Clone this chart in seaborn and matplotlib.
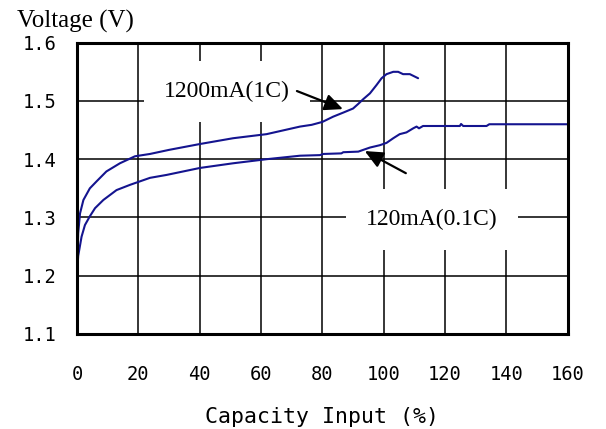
import numpy as np
import pandas as pd
import matplotlib
matplotlib.use("Agg")
import matplotlib.pyplot as plt
import seaborn as sns

# charge curves: capacity input (%) vs voltage (V)
cap_1c = [0, 0.4, 1.0, 2.1, 4.2, 6.4, 9.6, 14, 18.9, 23.8, 30, 40, 50.9, 61.8,
          72.7, 76.5, 80.0, 83.5, 86.8, 90.0, 91.7, 93.3, 95.5, 97.6, 99.3,
          100.9, 103.1, 104.7, 106.3, 108.5, 111.2]
volt_1c = [1.200, 1.273, 1.307, 1.330, 1.350, 1.362, 1.379, 1.393, 1.405, 1.409,
           1.416, 1.426, 1.436, 1.443, 1.456, 1.459, 1.464, 1.473, 1.480, 1.487,
           1.495, 1.503, 1.513, 1.527, 1.539, 1.546, 1.550, 1.550, 1.546, 1.546,
           1.539]

cap_01c = [0, 0.4, 1.5, 2.6, 4.2, 5.9, 8.6, 12.9, 17.3, 23.8, 29.2, 40.1, 50.9,
           61.8, 72.7, 79.2, 80.3, 86.2, 86.8, 91.7, 93.3, 95.5, 98.7, 100.9,
           103.1, 105.2, 107.4, 109.6, 110.7, 111.5, 112.8, 124.8, 125.2, 125.9,
           133.5, 134.4, 160]
volt_01c = [1.200, 1.234, 1.267, 1.287, 1.302, 1.316, 1.330, 1.347, 1.356, 1.368,
            1.373, 1.385, 1.393, 1.400, 1.406, 1.407, 1.409, 1.410, 1.412, 1.413,
            1.416, 1.420, 1.424, 1.428, 1.436, 1.443, 1.446, 1.453, 1.456, 1.453,
            1.457, 1.457, 1.4605, 1.457, 1.457, 1.460, 1.460]

x_ticks = [0, 20, 40, 60, 80, 100, 120, 140, 160]
y_ticks = [1.1, 1.2, 1.3, 1.4, 1.5, 1.6]

df = pd.concat([
    pd.DataFrame({"cap": cap_1c, "volt": volt_1c, "rate": "1C"}),
    pd.DataFrame({"cap": cap_01c, "volt": volt_01c, "rate": "0.1C"}),
])

sns.set_style("white")
plt.rcParams["text.color"] = "black"
plt.rcParams["xtick.color"] = "black"
plt.rcParams["ytick.color"] = "black"
plt.rcParams["axes.labelcolor"] = "black"

fig = plt.figure(figsize=(6.06, 4.29), dpi=100)
ax = fig.add_axes([0.127, 0.2215, 0.810, 0.679])

sns.lineplot(data=df, x="cap", y="volt", units="rate", estimator=None, sort=False,
             color="#14148f", lw=1.5, ax=ax, zorder=2, legend=False)

ax.set_xlim(0, 160)
ax.set_ylim(1.1, 1.6)
ax.set_xticks(x_ticks)
ax.set_yticks(y_ticks)
ax.set_xticklabels([str(v) for v in x_ticks])
ax.set_yticklabels(["%.1f" % v for v in y_ticks])
ax.grid(True, color="black", lw=1.1)
ax.set_axisbelow(True)
for s in ax.spines.values():
    s.set_visible(True)
    s.set_color("black")
    s.set_linewidth(2.2)

ax.tick_params(direction="in", length=7, width=2, color="black", labelsize=13.5,
               labelcolor="black")
ax.tick_params(axis="x", pad=22)
ax.tick_params(axis="y", pad=15)
for lab in ax.get_xticklabels() + ax.get_yticklabels():
    lab.set_family("DejaVu Sans Mono")
ax.set_xlabel("Capacity Input (%)", family="DejaVu Sans Mono", fontsize=15.5,
              labelpad=17, color="black")
ax.set_ylabel("")

box = dict(boxstyle="square,pad=0.85", fc="white", ec="none")
ax.text(48.9, 1.516, "1200mA(1C)", family="Liberation Serif", fontsize=17,
        ha="center", va="center", bbox=box, zorder=3, color="black")
ax.text(115.7, 1.296, "120mA(0.1C)", family="Liberation Serif", fontsize=17,
        ha="center", va="center", bbox=box, zorder=3, color="black")

arr = dict(arrowstyle="-|>,head_length=0.55,head_width=0.25", color="black",
           lw=1.6, mutation_scale=20, shrinkA=0, shrinkB=0)
ax.annotate("", xy=(86.7, 1.486), xytext=(71.7, 1.517), arrowprops=arr, zorder=4)
ax.annotate("", xy=(93.8, 1.414), xytext=(107.2, 1.376), arrowprops=arr, zorder=4)

fig.text(17 / 606, 1 - 21 / 429, "Voltage (V)", family="Liberation Serif",
         fontsize=18, ha="left", va="center", color="black")

fig.savefig("out.png", dpi=100)
